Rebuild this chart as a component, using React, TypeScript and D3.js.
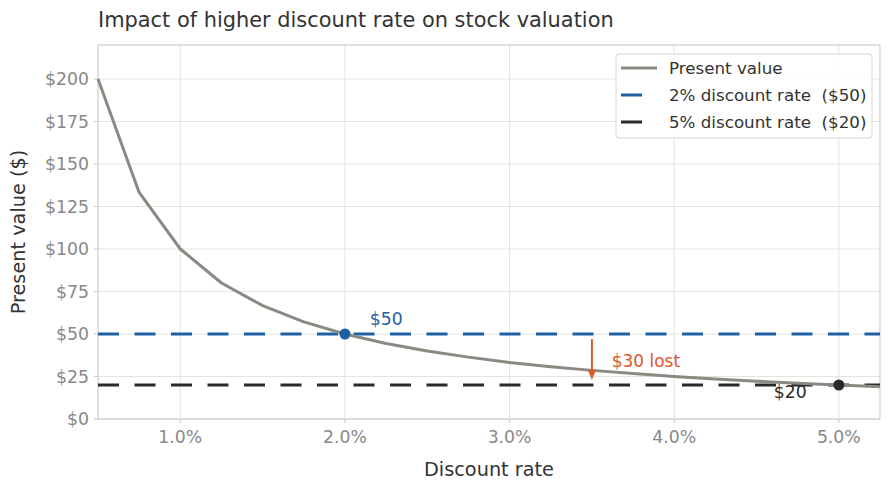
import { useEffect, useRef } from 'react'
import * as d3 from 'd3'

// discount rate (%) -> present value ($)
const rates = [0.5, 0.75, 1.0, 1.25, 1.5, 1.75, 2.0, 2.25, 2.5, 2.75, 3.0, 3.25, 3.5, 3.75, 4.0, 4.25, 4.5, 4.75, 5.0, 5.25]
const presentValues = [200, 133.3, 100, 80, 66.7, 57.1, 50, 44.4, 40, 36.4, 33.3, 30.8, 28.6, 26.7, 25, 23.5, 22.2, 21.1, 20, 19.0]

const xTicks = [1, 2, 3, 4, 5]
const yTicks = [0, 25, 50, 75, 100, 125, 150, 175, 200]

const lowRate = { rate: 2, value: 50, label: '$50', legend: '2% discount rate  ($50)' }
const highRate = { rate: 5, value: 20, label: '$20', legend: '5% discount rate  ($20)' }
const lossArrow = { rate: 3.5, from: 47, to: 23, label: '$30 lost' }

const COLORS = {
  curve: '#8a8a82',
  blue: '#1f5fa6',
  dark: '#2a2a2a',
  orange: '#e0582a',
  grid: '#e4e4df',
  spine: '#cfcfc6',
  tick: '#888888',
  text: '#333333'
}
const FONT = 'DejaVu Sans, sans-serif'

export default function App() {
  const svgRef = useRef<SVGSVGElement>(null)
  const width = 889
  const height = 490

  useEffect(() => {
    if (!svgRef.current) return
    const svg = d3.select(svgRef.current)
    svg.selectAll('*').remove()

    const margin = { top: 45, right: 9, bottom: 71, left: 98 }
    const x = d3.scaleLinear().domain([0.5, 5.25]).range([margin.left, width - margin.right])
    const y = d3.scaleLinear().domain([0, 220]).range([height - margin.bottom, margin.top])

    // grid
    xTicks.forEach(t => {
      svg.append('line')
        .attr('x1', x(t)).attr('x2', x(t))
        .attr('y1', y(0)).attr('y2', y(220))
        .style('stroke', COLORS.grid).style('stroke-width', '1px')
    })
    yTicks.forEach(t => {
      svg.append('line')
        .attr('x1', x(0.5)).attr('x2', x(5.25))
        .attr('y1', y(t)).attr('y2', y(t))
        .style('stroke', COLORS.grid).style('stroke-width', '1px')
    })

    // frame
    svg.append('rect')
      .attr('x', x(0.5)).attr('y', y(220))
      .attr('width', x(5.25) - x(0.5)).attr('height', y(0) - y(220))
      .style('fill', 'none').style('stroke', COLORS.spine).style('stroke-width', '1.2px')

    // ticks + labels
    xTicks.forEach(t => {
      svg.append('line')
        .attr('x1', x(t)).attr('x2', x(t))
        .attr('y1', y(0)).attr('y2', y(0) + 4)
        .style('stroke', COLORS.spine).style('stroke-width', '1.2px')
      svg.append('text')
        .attr('x', x(t)).attr('y', y(0) + 24)
        .attr('text-anchor', 'middle')
        .style('fill', COLORS.tick).style('font-size', '17.3px').style('font-family', FONT)
        .text(`${t.toFixed(1)}%`)
    })
    yTicks.forEach(t => {
      svg.append('line')
        .attr('x1', x(0.5) - 4).attr('x2', x(0.5))
        .attr('y1', y(t)).attr('y2', y(t))
        .style('stroke', COLORS.spine).style('stroke-width', '1.2px')
      svg.append('text')
        .attr('x', x(0.5) - 9).attr('y', y(t) + 6.2)
        .attr('text-anchor', 'end')
        .style('fill', COLORS.tick).style('font-size', '17.3px').style('font-family', FONT)
        .text(`$${t}`)
    })

    // reference lines
    const dash = '21 15.5'
    svg.append('line')
      .attr('x1', x(0.5)).attr('x2', x(5.25))
      .attr('y1', y(lowRate.value)).attr('y2', y(lowRate.value))
      .style('stroke', COLORS.blue).style('stroke-width', '3px').style('stroke-dasharray', dash)
    svg.append('line')
      .attr('x1', x(0.5)).attr('x2', x(5.25))
      .attr('y1', y(highRate.value)).attr('y2', y(highRate.value))
      .style('stroke', COLORS.dark).style('stroke-width', '3px').style('stroke-dasharray', dash)

    // curve
    const line = d3.line<number>()
      .x((_, i) => x(rates[i]))
      .y(d => y(d))
    svg.append('path')
      .datum(presentValues)
      .attr('d', line)
      .style('fill', 'none')
      .style('stroke', COLORS.curve)
      .style('stroke-width', '3px')
      .style('stroke-linejoin', 'round')

    // markers
    svg.append('circle')
      .attr('cx', x(lowRate.rate)).attr('cy', y(lowRate.value)).attr('r', 5.5)
      .style('fill', COLORS.blue)
    svg.append('circle')
      .attr('cx', x(highRate.rate)).attr('cy', y(highRate.value)).attr('r', 5.5)
      .style('fill', COLORS.dark)

    svg.append('text')
      .attr('x', x(2.15)).attr('y', y(55.5))
      .style('fill', COLORS.blue).style('font-size', '17.3px').style('font-family', FONT)
      .text(lowRate.label)
    svg.append('text')
      .attr('x', x(4.605)).attr('y', y(12.3))
      .style('fill', COLORS.dark).style('font-size', '17.3px').style('font-family', FONT)
      .text(highRate.label)

    // loss arrow
    const ax = x(lossArrow.rate)
    const yFrom = y(lossArrow.from)
    const yTip = y(lossArrow.to)
    svg.append('line')
      .attr('x1', ax).attr('x2', ax)
      .attr('y1', yFrom).attr('y2', yTip - 8)
      .style('stroke', COLORS.orange).style('stroke-width', '2px')
    svg.append('path')
      .attr('d', `M${ax - 4},${yTip - 10} L${ax + 4},${yTip - 10} L${ax},${yTip} Z`)
      .style('fill', COLORS.orange)
    svg.append('text')
      .attr('x', x(3.62)).attr('y', y(30.8))
      .style('fill', COLORS.orange).style('font-size', '17px').style('font-family', FONT)
      .text(lossArrow.label)

    // axis titles
    svg.append('text')
      .attr('x', (x(0.5) + x(5.25)) / 2).attr('y', 476)
      .attr('text-anchor', 'middle')
      .style('fill', COLORS.text).style('font-size', '19.3px').style('font-family', FONT)
      .text('Discount rate')
    svg.append('text')
      .attr('transform', `translate(25, ${(y(0) + y(220)) / 2}) rotate(-90)`)
      .attr('text-anchor', 'middle')
      .style('fill', COLORS.text).style('font-size', '19.3px').style('font-family', FONT)
      .text('Present value ($)')

    // title
    svg.append('text')
      .attr('x', 98).attr('y', 27)
      .style('fill', COLORS.text).style('font-size', '20.9px').style('font-family', FONT)
      .text('Impact of higher discount rate on stock valuation')

    // legend
    const lg = svg.append('g').attr('transform', 'translate(616, 54)')
    lg.append('rect')
      .attr('width', 256).attr('height', 84).attr('rx', 3)
      .style('fill', 'rgba(255,255,255,0.85)').style('stroke', '#d6d6d0').style('stroke-width', '1px')
    const items = [
      { label: 'Present value', color: COLORS.curve, dashed: false },
      { label: lowRate.legend, color: COLORS.blue, dashed: true },
      { label: highRate.legend, color: COLORS.dark, dashed: true }
    ]
    items.forEach((item, i) => {
      const cy = 14 + i * 27
      lg.append('line')
        .attr('x1', 5).attr('x2', 41)
        .attr('y1', cy).attr('y2', cy)
        .style('stroke', item.color).style('stroke-width', '3px')
        .style('stroke-dasharray', item.dashed ? dash : null)
      lg.append('text')
        .attr('x', 53).attr('y', cy + 6)
        .style('fill', COLORS.text).style('font-size', '16.7px').style('font-family', FONT)
        .style('white-space', 'pre')
        .text(item.label)
    })
  }, [])

  return (
    <svg
      ref={svgRef}
      width={width}
      height={height}
      style={{ position: 'fixed', top: 0, left: 0, background: '#fff' }}
    />
  )
}
